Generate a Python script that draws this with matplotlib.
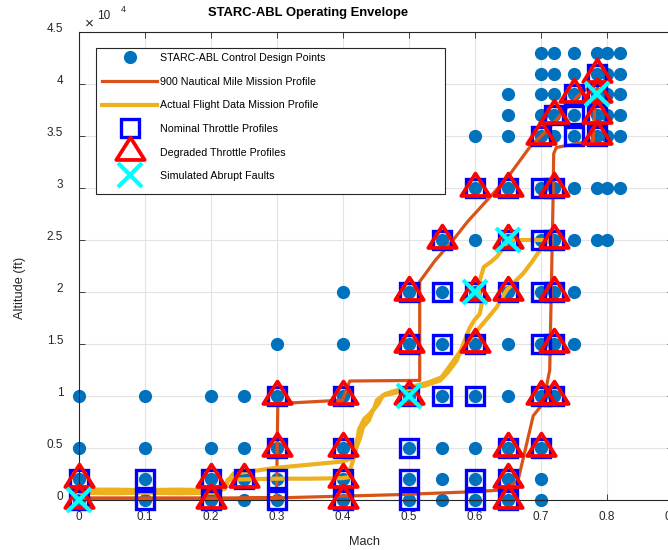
import matplotlib
matplotlib.use("Agg")
import matplotlib.pyplot as plt
from matplotlib.patches import Rectangle
from matplotlib.path import Path
from matplotlib.transforms import ScaledTranslation

plt.rcParams["font.family"] = ["Liberation Sans", "DejaVu Sans"]

# design points, one list per altitude row
design_rows = {
    0:     [0, 0.1, 0.2, 0.25, 0.3, 0.4, 0.5, 0.55, 0.6, 0.65, 0.7],
    2000:  [0, 0.1, 0.2, 0.25, 0.3, 0.4, 0.5, 0.55, 0.6, 0.65, 0.7],
    5000:  [0, 0.1, 0.2, 0.25, 0.3, 0.4, 0.5, 0.55, 0.6, 0.65, 0.7],
    10000: [0, 0.1, 0.2, 0.25, 0.3, 0.4, 0.5, 0.55, 0.6, 0.65, 0.7, 0.72],
    15000: [0.3, 0.4, 0.5, 0.55, 0.6, 0.65, 0.7, 0.72, 0.75],
    20000: [0.4, 0.5, 0.55, 0.6, 0.65, 0.7, 0.72, 0.75],
    25000: [0.55, 0.6, 0.65, 0.7, 0.72, 0.75, 0.785, 0.8],
    30000: [0.6, 0.65, 0.7, 0.72, 0.75, 0.785, 0.8, 0.82],
    35000: [0.6, 0.65, 0.7, 0.72, 0.75, 0.785, 0.8, 0.82],
    37000: [0.65, 0.7, 0.72, 0.75, 0.785, 0.8, 0.82],
    39000: [0.65, 0.7, 0.72, 0.75, 0.785, 0.8, 0.82],
    41000: [0.7, 0.72, 0.75, 0.785, 0.8, 0.82],
    43000: [0.7, 0.72, 0.75, 0.785, 0.8, 0.82],
}

nominal_rows = {
    0:     [0, 0.1, 0.2, 0.3, 0.4, 0.5, 0.6, 0.65],
    2000:  [0, 0.1, 0.2, 0.25, 0.3, 0.4, 0.5, 0.6, 0.65],
    5000:  [0.3, 0.4, 0.5, 0.65, 0.7],
    10000: [0.3, 0.4, 0.5, 0.55, 0.6, 0.7, 0.72],
    15000: [0.5, 0.55, 0.6, 0.7, 0.72],
    20000: [0.5, 0.55, 0.6, 0.65, 0.7, 0.72],
    25000: [0.55, 0.65, 0.7, 0.72],
    30000: [0.6, 0.65, 0.7, 0.72],
    35000: [0.7, 0.75, 0.785],
    37000: [0.72, 0.75, 0.785],
    39000: [0.75, 0.785],
    41000: [0.785],
}

degraded_rows = {
    0:     [0, 0.2, 0.4, 0.65],
    2000:  [0, 0.2, 0.25, 0.4, 0.65],
    5000:  [0.3, 0.4, 0.65, 0.7],
    10000: [0.3, 0.4, 0.5, 0.7, 0.72],
    15000: [0.5, 0.6, 0.72],
    20000: [0.5, 0.6, 0.65, 0.72],
    25000: [0.55, 0.65, 0.72],
    30000: [0.6, 0.65, 0.72],
    35000: [0.7, 0.785],
    37000: [0.72, 0.785],
    39000: [0.75, 0.785],
    41000: [0.785],
}

fault_mach = [0, 0.5, 0.6, 0.65, 0.785]
fault_alt = [0, 10000, 20000, 25000, 39000]

# 900 nmi mission profile (climb then descent)
nm_mach = [0, 0.10, 0.20, 0.30, 0.487, 0.60, 0.634, 0.650, 0.666, 0.689, 0.704,
           0.714, 0.719, 0.720, 0.724, 0.750, 0.780, 0.782, 0.787,
           0.770, 0.755, 0.730, 0.709, 0.684, 0.650, 0.623, 0.590, 0.567, 0.540,
           0.517, 0.517, 0.411, 0.400, 0.302, 0.300, 0.0]
nm_alt = [0, 50, 100, 200, 520, 800, 930, 1100, 1900, 8100, 9300,
          12500, 28800, 33300, 33900, 34200, 34600, 37500, 40000,
          39500, 38750, 37000, 35500, 33950, 31000, 29100, 26800, 24950, 23000,
          21000, 11500, 11440, 9600, 9270, 200, 200]

# actual flight data profile
fd_mach = [0.0, 0.05, 0.10, 0.15, 0.20, 0.215, 0.222, 0.226, 0.26, 0.30, 0.35,
           0.40, 0.410, 0.412, 0.416, 0.421, 0.427, 0.431, 0.440, 0.446, 0.455,
           0.461, 0.480, 0.502, 0.525, 0.548, 0.560, 0.573, 0.583, 0.593, 0.600,
           0.608, 0.611, 0.606, 0.608, 0.614, 0.625, 0.634, 0.641, 0.649, 0.660,
           0.690, 0.715,
           0.705, 0.699, 0.686, 0.674, 0.658, 0.649, 0.640, 0.634, 0.620, 0.608,
           0.598, 0.588, 0.575, 0.565, 0.550, 0.530, 0.505, 0.480, 0.465, 0.452,
           0.448, 0.440, 0.433, 0.425, 0.423, 0.418, 0.414, 0.400, 0.350, 0.300,
           0.255, 0.235, 0.228, 0.222, 0.210, 0.150, 0.100, 0.050, 0.0]
fd_alt = [1000, 1000, 950, 1000, 950, 1000, 1100, 1950, 2000, 2050, 2050,
          2100, 2200, 3000, 3800, 5000, 6050, 7000, 7650, 8600, 9300,
          10050, 10300, 10700, 11000, 11500, 12300, 13400, 15000, 16600, 17300,
          17900, 18900, 20200, 21100, 22400, 22900, 23400, 24000, 24800, 25000,
          25000, 25000,
          24700, 24000, 22800, 21800, 20800, 20200, 19300, 18560, 17500, 16600,
          15800, 15060, 14000, 13100, 11800, 11300, 10900, 10500, 10200, 9600,
          8800, 8200, 7800, 6800, 6000, 5000, 4000, 3700, 3400, 3100,
          2700, 2550, 2000, 1200, 700, 650, 700, 650, 700]


def flatten(rows):
    xs, ys = [], []
    for alt, machs in rows.items():
        xs += machs
        ys += [alt] * len(machs)
    return xs, ys


dx, dy = flatten(design_rows)
sx, sy = flatten(nominal_rows)
tx, ty = flatten(degraded_rows)

W, H = 668, 550
fig = plt.figure(figsize=(W / 100, H / 100), dpi=100)
ax = fig.add_axes([78.5 / W, 50 / H, 594 / W, 468 / H])

# MATLAB-like triangle: wider than tall, point sits low in the shape
tri = Path([(0, 1.0), (-0.95, -0.5), (0.95, -0.5), (0, 1.0)],
           [Path.MOVETO, Path.LINETO, Path.LINETO, Path.CLOSEPOLY])

h_dots, = ax.plot(dx, dy, "o", color="#0072BD", ms=8.5, ls="none", zorder=2,
                  clip_on=False, label="STARC-ABL Control Design Points")
h_nm, = ax.plot(nm_mach, nm_alt, color="#D95319", lw=2.3, zorder=3,
                label="900 Nautical Mile Mission Profile")
h_fd, = ax.plot(fd_mach, fd_alt, color="#EDB120", lw=3.0, zorder=3,
                solid_joinstyle="round", label="Actual Flight Data Mission Profile")
h_sq, = ax.plot(sx, sy, "s", mfc="none", mec="#0000FF", ms=12.5, mew=2.4,
                ls="none", zorder=4, clip_on=False, label="Nominal Throttle Profiles")
h_tri, = ax.plot(tx, ty, marker=tri, mfc="none", mec="#FF0000", ms=21.5, mew=2.7,
                 ls="none", zorder=5, clip_on=False, label="Degraded Throttle Profiles")
h_x, = ax.plot(fault_mach, fault_alt, "x", color="#00FFFF", ms=17, mew=3.0,
               ls="none", zorder=6, clip_on=False, label="Simulated Abrupt Faults")

ax.set_xlim(0, 0.9)
ax.set_ylim(0, 45000)
ax.set_xticks([0, 0.1, 0.2, 0.3, 0.4, 0.5, 0.6, 0.7, 0.8, 0.9])
ax.set_xticklabels(["0", "0.1", "0.2", "0.3", "0.4", "0.5", "0.6", "0.7", "0.8", "0.9"])
ax.set_yticks([0, 5000, 10000, 15000, 20000, 25000, 30000, 35000, 40000, 45000])
ax.set_yticklabels(["0", "0.5", "1", "1.5", "2", "2.5", "3", "3.5", "4", "4.5"])
ax.grid(True, color="#e3e3e3", lw=0.8, zorder=0)
ax.set_axisbelow(True)
ax.tick_params(direction="in", length=4, width=0.6, colors="#262626",
               labelsize=8.5, top=True, right=True)
ax.tick_params(axis="x", pad=8)
ax.tick_params(axis="y", pad=11)
for sp in ax.spines.values():
    sp.set_color("#262626")
    sp.set_linewidth(0.8)
for lab in ax.get_yticklabels():
    lab.set_transform(lab.get_transform() + ScaledTranslation(0, 0.04, fig.dpi_scale_trans))

fig.text(308 / W, 1 - 13 / H, "STARC-ABL Operating Envelope", ha="center", va="center",
         fontsize=9.4, fontweight="bold", color="black")
fig.text(365 / W, 1 - 542 / H, "Mach", ha="center", va="center", fontsize=9.2, color="#262626")
fig.text(20 / W, 1 - 288 / H, "Altitude (ft)", ha="center", va="center", rotation=90,
         fontsize=9.2, color="#262626")
fig.text(89 / W, 1 - 24 / H, "\u00d7", ha="center", va="center", fontsize=11, color="#262626")
fig.text(104 / W, 1 - 16 / H, "10", ha="center", va="center", fontsize=8.5, color="#262626")
fig.text(123 / W, 1 - 10 / H, "4", ha="center", va="center", fontsize=6.5, color="#262626")

# legend box is wider than its contents, so the frame is drawn separately
box = Rectangle((95.7 / W, 1 - 193.5 / H), 349 / W, 145.5 / H, transform=fig.transFigure,
                facecolor="white", edgecolor="#262626", lw=0.8, zorder=9)
ax.add_artist(box)
box.set_clip_on(False)

leg = ax.legend(handles=[h_dots, h_nm, h_fd, h_sq, h_tri, h_x],
                loc="upper left", borderaxespad=0,
                bbox_to_anchor=(99 / W, 1 - 50 / H),
                bbox_transform=fig.transFigure, fontsize=7.65, handlelength=5.2,
                handletextpad=0.2, labelspacing=1.28, borderpad=0.3,
                frameon=False)
leg.set_zorder(10)

fig.savefig("out.png", dpi=100)
